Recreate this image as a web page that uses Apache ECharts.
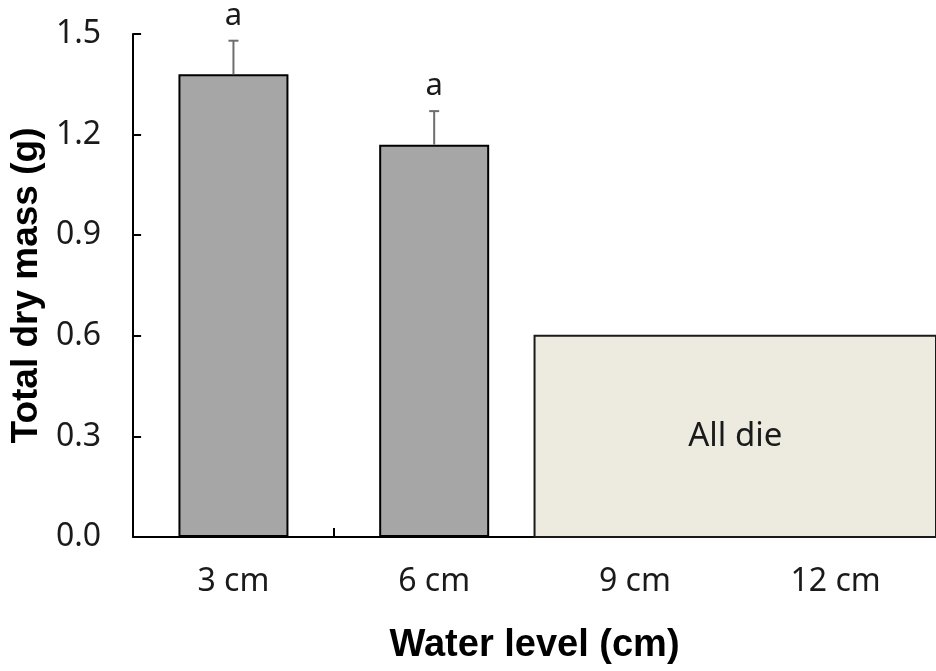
<!DOCTYPE html>
<html>
<head>
<meta charset="utf-8">
<script src="https://cdn.jsdelivr.net/npm/echarts@6/dist/echarts.min.js"></script>
<style>
  html, body { margin: 0; padding: 0; background: #ffffff; }
  #chart { width: 936px; height: 671px; }
</style>
</head>
<body>
<div id="chart"></div>
<script>
// Water level treatments and total dry mass (mean ± SE)
const categories = ['3 cm', '6 cm', '9 cm', '12 cm'];
const meanMass = [1.38, 1.17, null, null];
const seMass = [0.10, 0.10, null, null];
const sigLetters = ['a', 'a', '', ''];
const yTicks = [0.0, 0.3, 0.6, 0.9, 1.2, 1.5];
// Treatments where no plant survived, drawn as one shaded panel
const deadFrom = '9 cm';
const deadTo = '12 cm';
const deadPanelHeight = 0.6;
const deadText = 'All die';

const LABEL_FONT = '"Noto Sans", "Noto Sans CJK KR", sans-serif';
const TITLE_FONT = '"Liberation Sans", Arial, sans-serif';

const chart = echarts.init(document.getElementById('chart'), null, { renderer: 'canvas' });

const errorData = [];
meanMass.forEach(function (m, i) {
  if (m != null) errorData.push([i, m, seMass[i], sigLetters[i]]);
});

const option = {
  backgroundColor: '#ffffff',
  animation: false,
  grid: { left: 131, top: 34, width: 812, bottom: 134, containLabel: false },
  xAxis: {
    type: 'category',
    data: categories,
    boundaryGap: true,
    axisLine: { show: true, lineStyle: { color: '#000', width: 2 } },
    axisTick: { show: true, inside: true, length: 9, lineStyle: { color: '#000', width: 2 } },
    axisLabel: { color: '#1a1a1a', fontSize: 32, fontFamily: LABEL_FONT, margin: 29 },
    name: 'Water level (cm)',
    nameLocation: 'middle',
    nameGap: 90,
    nameTextStyle: { color: '#000', fontSize: 38, fontWeight: 'bold', fontFamily: TITLE_FONT }
  },
  yAxis: {
    type: 'value',
    min: yTicks[0],
    max: yTicks[yTicks.length - 1],
    interval: yTicks[1] - yTicks[0],
    splitLine: { show: false },
    axisLine: { show: true, lineStyle: { color: '#000', width: 2 } },
    axisTick: { show: true, inside: true, length: 8, lineStyle: { color: '#000', width: 2 } },
    axisLabel: {
      color: '#1a1a1a', fontSize: 32, fontFamily: LABEL_FONT, margin: 32,
      formatter: function (v) { return v.toFixed(1); }
    },
    name: 'Total dry mass (g)',
    nameLocation: 'middle',
    nameGap: 88,
    nameTextStyle: { color: '#000', fontSize: 37, fontWeight: 'bold', fontFamily: TITLE_FONT }
  },
  series: [
    {
      type: 'bar',
      data: meanMass.map(function (v) { return v == null ? '-' : v; }),
      barWidth: 110,
      itemStyle: { color: '#a6a6a6', borderColor: '#000', borderWidth: 2 },
      z: 3
    },
    {
      // error bars with significance letters
      type: 'custom',
      data: errorData,
      z: 4,
      renderItem: function (params, api) {
        const x = api.value(0);
        const m = api.value(1);
        const se = api.value(2);
        const base = api.coord([x, m]);
        const top = api.coord([x, m + se]);
        const cap = 5;
        return {
          type: 'group',
          children: [
            { type: 'line', shape: { x1: base[0], y1: base[1], x2: top[0], y2: top[1] },
              style: { stroke: '#6e6e6e', lineWidth: 2 } },
            { type: 'line', shape: { x1: top[0] - cap, y1: top[1], x2: top[0] + cap, y2: top[1] },
              style: { stroke: '#6e6e6e', lineWidth: 2 } },
            { type: 'text', x: top[0], y: top[1] - 9,
              style: { text: api.value(3), fill: '#1a1a1a', fontSize: 31, fontFamily: LABEL_FONT,
                       align: 'center', verticalAlign: 'bottom' } }
          ]
        };
      }
    },
    {
      // shaded panel for treatments with no survivors
      type: 'custom',
      data: [[categories.indexOf(deadFrom), categories.indexOf(deadTo), deadPanelHeight, deadText]],
      z: 5,
      renderItem: function (params, api) {
        const band = api.size([1, 0])[0];
        const p0 = api.coord([api.value(0), 0]);
        const p1 = api.coord([api.value(1), api.value(2)]);
        const left = p0[0] - band / 2;
        const right = p1[0] + band / 2;
        const mid = api.coord([api.value(0), api.value(2) / 2]);
        return {
          type: 'group',
          children: [
            { type: 'rect', shape: { x: left, y: p1[1], width: right - left, height: p0[1] - p1[1] },
              style: { fill: '#edeae0', stroke: '#1a1a1a', lineWidth: 2 } },
            { type: 'text', x: (p0[0] + p1[0]) / 2, y: mid[1],
              style: { text: api.value(3), fill: '#1a1a1a', fontSize: 33, fontFamily: LABEL_FONT,
                       align: 'center', verticalAlign: 'middle' } }
          ]
        };
      }
    }
  ]
};

chart.setOption(option);
</script>
</body>
</html>
